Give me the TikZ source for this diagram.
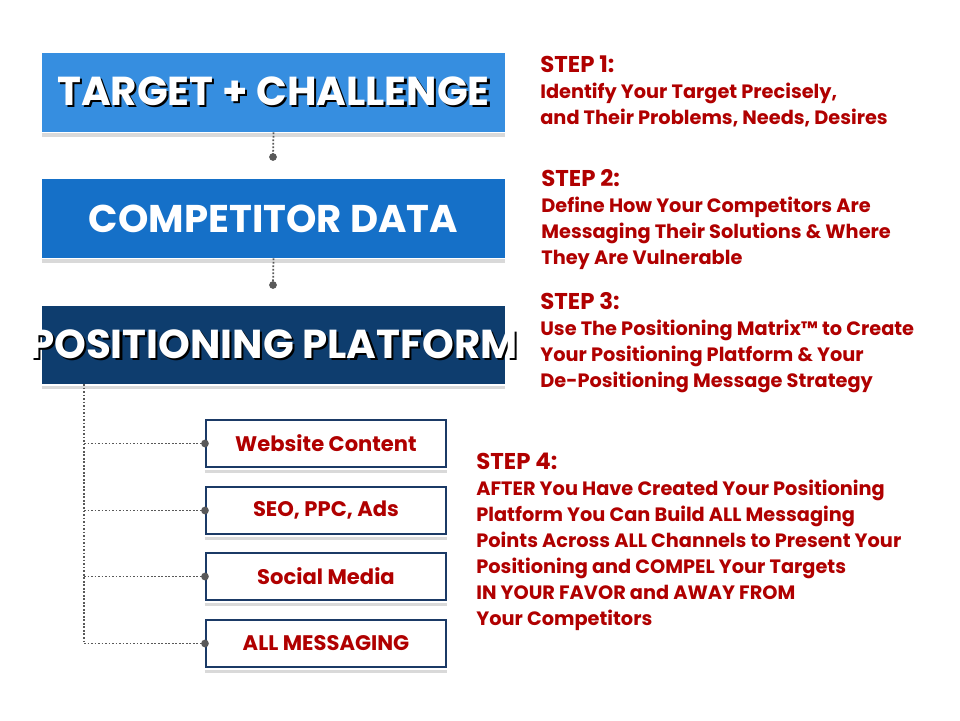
\documentclass[tikz,border=0pt]{standalone}
\usepackage{fontspec}
\setmainfont{Poppins}
\usetikzlibrary{positioning}
\definecolor{topblue}{HTML}{368EE0}
\definecolor{midblue}{HTML}{1570C8}
\definecolor{darkblue}{HTML}{0E3D6E}
\definecolor{navy}{HTML}{1B3A66}
\definecolor{stepred}{HTML}{B00000}
\tikzset{
  bigbox/.style={minimum width=9.26cm, minimum height=1.58cm, inner sep=0pt},
  smallbox/.style={draw=navy, line width=1.2pt, fill=white, minimum width=4.8cm,
    minimum height=0.94cm, inner sep=0pt, text=stepred, font=\bfseries\fontsize{12}{14}\selectfont},
  steptext/.style={anchor=north west, align=left, text=stepred, inner sep=0pt,
    font=\bfseries\fontsize{11}{14.8}\selectfont},
  link/.style={gray!70!black, densely dotted, line width=1pt},
  shadowline/.style={black!15, line width=2pt}
}
\newcommand{\shadowed}[1]{%
  \makebox[0pt]{\color{black}\raisebox{-1.2pt}{\hspace{2.4pt}#1}}\makebox[0pt]{\color{white}#1}}
\begin{document}
\begin{tikzpicture}[x=0.02cm, y=-0.02cm]
  \useasboundingbox[fill=white] (0,0) rectangle (960,720);
  % main boxes
  \node[bigbox, fill=topblue] (target) at (273.5,92.5) {};
  \node[bigbox, fill=midblue] (comp) at (273.5,218.5) {};
  \node[bigbox, fill=darkblue] (plat) at (273.5,345) {};
  \foreach \b in {target,comp,plat}
    \draw[shadowline] ([yshift=-1.5pt]\b.south west) -- ([yshift=-1.5pt]\b.south east);
  \node[font=\bfseries\fontsize{23}{26}\selectfont] at (target) {\shadowed{TARGET + CHALLENGE}};
  \node[font=\bfseries\fontsize{22}{26}\selectfont, text=white] at (comp) {COMPETITOR DATA};
  \node[font=\bfseries\fontsize{23}{26}\selectfont] at (plat) {\shadowed{POSITIONING PLATFORM}};

  % connectors between main boxes
  \coordinate (d1) at (273,157);
  \coordinate (d2) at (273,285);
  \draw[link] (target.south) -- (d1);
  \draw[link] (comp.south) -- (d2);
  \fill[gray!70!black] (d1) circle (2.2pt) (d2) circle (2.2pt);

  % channel boxes
  \node[smallbox] (web) at (326,443.5) {Website Content};
  \node[smallbox] (seo) at (326,510.5) {SEO, PPC, Ads};
  \node[smallbox] (social) at (326,576.5) {Social Media};
  \node[smallbox] (all) at (326,643.5) {ALL MESSAGING};
  \foreach \b in {web,seo,social,all}
    \draw[shadowline, line width=1.5pt] ([yshift=-2pt]\b.south west) -- ([yshift=-2pt]\b.south east);

  % tree
  \coordinate (trunk) at (84,384);
  \draw[link] (trunk) -- (84,643.5);
  \foreach \b in {web,seo,social,all} {
    \draw[link] (trunk |- \b.west) -- (\b.west);
    \fill[gray!70!black] (\b.west) circle (2.2pt);
  }

  % steps
  \node[steptext] (s1) at (540,55) {{\fontsize{13}{14.8}\selectfont STEP 1:}\\Identify Your Target Precisely,\\and Their Problems, Needs, Desires};
  \node[steptext] (s2) at (541,169) {{\fontsize{13}{14.8}\selectfont STEP 2:}\\Define How Your Competitors Are\\Messaging Their Solutions \& Where\\They Are Vulnerable};
  \node[steptext] (s3) at (540,292) {{\fontsize{13}{14.8}\selectfont STEP 3:}\\Use The Positioning Matrix™ to Create\\Your Positioning Platform \& Your\\De-Positioning Message Strategy};
  \node[steptext] (s4) at (476,453) {{\fontsize{13}{14.8}\selectfont STEP 4:}\\AFTER You Have Created Your Positioning\\Platform You Can Build ALL Messaging\\Points Across ALL Channels to Present Your\\Positioning and COMPEL Your Targets\\IN YOUR FAVOR and AWAY FROM\\Your Competitors};
\end{tikzpicture}
\end{document}
